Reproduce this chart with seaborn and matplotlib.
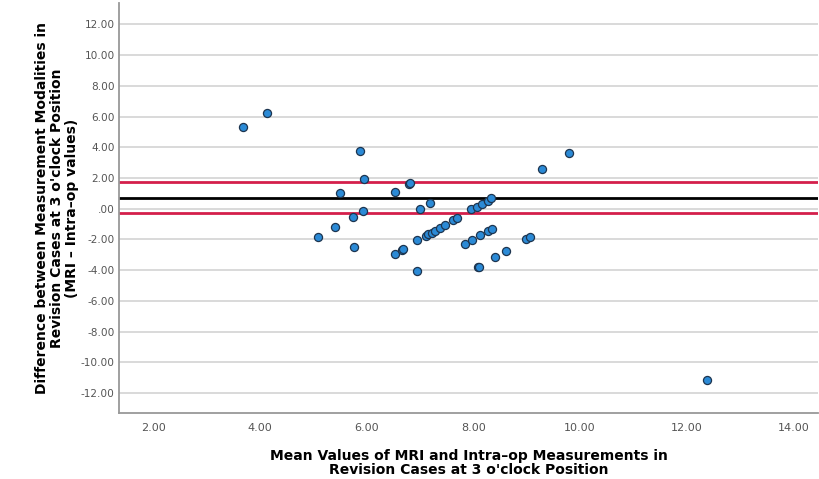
import matplotlib
matplotlib.use('Agg')
import matplotlib.pyplot as plt
import seaborn as sns
import pandas as pd
from matplotlib.ticker import FuncFormatter

# Bland-Altman data
mean_vals = [3.68, 4.14, 5.88, 5.96, 5.51, 6.53, 6.80, 6.82, 7.00, 7.18, 5.94, 5.74,
             5.09, 5.41, 5.76, 6.53, 6.66, 6.69, 6.95, 6.95, 7.12, 7.16, 7.23, 7.29,
             7.38, 7.47, 7.62, 7.70, 7.85, 7.97, 7.96, 8.07, 8.17, 8.27, 8.34, 8.08,
             8.10, 8.13, 8.27, 8.35, 8.40, 8.62, 8.99, 9.07, 9.29, 9.79, 12.39]
diff_vals = [5.31, 6.23, 3.75, 1.91, 1.02, 1.06, 1.60, 1.65, 0.00, 0.37, -0.13, -0.52,
             -1.84, -1.19, -2.49, -2.94, -2.68, -2.64, -2.05, -4.09, -1.75, -1.66, -1.56, -1.43,
             -1.23, -1.08, -0.73, -0.63, -2.29, -2.03, -0.04, 0.13, 0.32, 0.52, 0.69, -3.81,
             -3.77, -1.73, -1.45, -1.30, -3.18, -2.73, -1.99, -1.84, 2.60, 3.62, -11.14]
mean_diff = 0.72
upper_line = 1.71
lower_line = -0.26

x_ticks = [2, 4, 6, 8, 10, 12, 14]
y_ticks = list(range(-12, 13, 2))

df = pd.DataFrame({'mean': mean_vals, 'diff': diff_vals})


def fmt(v, pos):
    s = f"{v:.2f}"
    if s in ("0.00", "-0.00"):
        return ".00"
    return s


fig = plt.figure(figsize=(8.2, 4.79), dpi=100)
ax = fig.add_axes([0.145, 0.138, 0.853, 0.856])

for t in y_ticks:
    ax.axhline(t, color='#d9d9d9', lw=1.4, zorder=0)

ax.axhline(upper_line, color='#d41f4b', lw=2.0, zorder=1)
ax.axhline(lower_line, color='#d41f4b', lw=2.0, zorder=1)
ax.axhline(mean_diff, color='black', lw=2.0, zorder=1)

sns.scatterplot(data=df, x='mean', y='diff', ax=ax, s=34, color='#2b8ad6',
                edgecolor='#1d3550', linewidth=0.9, zorder=3)

ax.set_xlim(1.355, 14.47)
ax.set_ylim(-13.3, 13.4)
ax.set_xticks(x_ticks)
ax.set_yticks(y_ticks)
ax.xaxis.set_major_formatter(FuncFormatter(fmt))
ax.yaxis.set_major_formatter(FuncFormatter(fmt))
ax.tick_params(axis='x', length=0, labelsize=8, colors='#555555', pad=7)
ax.tick_params(axis='y', length=0, labelsize=7.6, colors='#555555', pad=3)

for side in ['top', 'right']:
    ax.spines[side].set_visible(False)
for side in ['left', 'bottom']:
    ax.spines[side].set_color('#999999')
    ax.spines[side].set_linewidth(1.3)

ax.set_xlabel("Mean Values of MRI and Intra\u2013op Measurements in\nRevision Cases at 3 o'clock Position",
              fontsize=10, fontweight='bold', linespacing=0.95, labelpad=12)
ax.set_ylabel("Difference between Measurement Modalities in\nRevision Cases at 3 o'clock Position\n(MRI \u2013 Intra\u2013op values)",
              fontsize=10, fontweight='bold', linespacing=1.1, labelpad=1)

fig.savefig('out.png', dpi=100)
